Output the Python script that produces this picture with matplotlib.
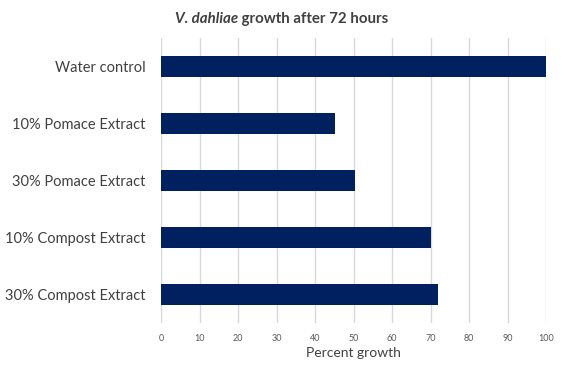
import matplotlib
matplotlib.use("Agg")
import matplotlib.pyplot as plt

categories = ["Water control", "10% Pomace Extract", "30% Pomace Extract",
              "10% Compost Extract", "30% Compost Extract"]
growth = [100, 45.2, 50.4, 70.1, 72.0]
xticks = list(range(0, 101, 10))

plt.rcParams['font.family'] = ['Lato', 'DejaVu Sans']

fig = plt.figure(figsize=(5.64, 3.73), dpi=100)
ax = fig.add_axes([0.2855, 0.134, 0.683, 0.763])

ypos = list(range(len(categories)))
ax.barh(ypos, growth, height=0.37, color='#002060', zorder=3)
ax.set_ylim(len(categories) - 0.5, -0.5)
ax.set_xlim(0, 100)
ax.set_yticks(ypos)
ax.set_yticklabels(categories, fontsize=10.5, color='#404040')
ax.set_xticks(xticks)
ax.set_xticklabels([str(t) for t in xticks], fontsize=6.5, color='#595959')
ax.tick_params(axis='both', length=0, pad=8)
ax.tick_params(axis='y', pad=11)
ax.grid(axis='x', color='#d9d9d9', linewidth=1, zorder=0)
for s in ax.spines.values():
    s.set_visible(False)
ax.set_xlabel("Percent growth", fontsize=10, color='#404040', labelpad=3)

# title: italic species name followed by plain bold text
t1 = fig.text(0.31, 0.95, "V. dahliae", fontsize=10.8, fontweight='bold',
              fontstyle='italic', color='#404040', va='center', ha='left')
fig.canvas.draw()
ax.annotate(" growth after 72 hours", xy=(1, 0.5), xycoords=t1,
            fontsize=10.8, fontweight='bold', color='#404040',
            va='center', ha='left')

fig.savefig("out.png", dpi=100)
